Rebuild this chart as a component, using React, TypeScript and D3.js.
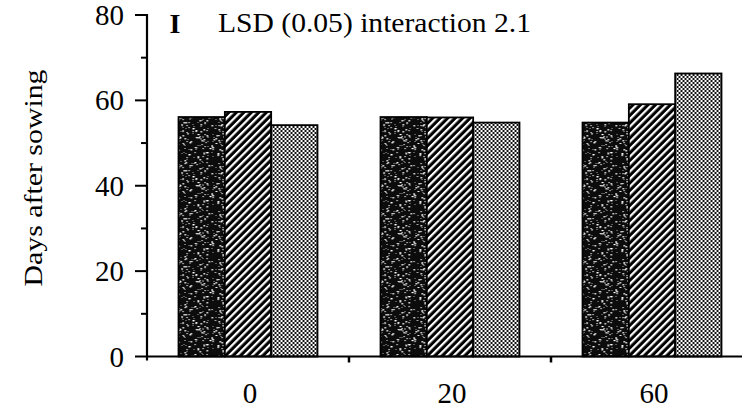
import React from 'react';
import * as d3 from 'd3';

// ---- data ----
const categories = ['0', '20', '60'];
const seriesKeys = ['s1', 's2', 's3'];
const series1 = [56.1, 56.1, 54.8];
const series2 = [57.3, 56.0, 59.1];
const series3 = [54.2, 54.8, 66.3];
const yTicks = [0, 20, 40, 60, 80];
const yMinorTicks = [10, 30, 50, 70];
const yTitle = 'Days after sowing';
const lsdText = 'LSD (0.05) interaction 2.1';
const lsdSymbol = 'I';

const W = 742;
const H = 410;
const FONT = "'Liberation Serif', 'Times New Roman', Times, serif";

const seriesValues = [series1, series2, series3];
const patternIds = ['pStipple', 'pStripe', 'pChecker'];

// deterministic speck positions for the stipple texture (style only, hash based)
const TILE = 48;
function mix(n: number): number {
  let h = n >>> 0;
  h ^= h >>> 16;
  h = Math.imul(h, 0x85ebca6b) >>> 0;
  h ^= h >>> 13;
  h = Math.imul(h, 0xc2b2ae35) >>> 0;
  h ^= h >>> 16;
  return h >>> 0;
}
const speckles: [number, number, number][] = [];
for (let k = 0; k < 200; k++) {
  const h1 = mix(k * 3 + 11);
  const h2 = mix(k * 3 + 12);
  const h3 = mix(k * 3 + 13);
  speckles.push([h1 % TILE, h2 % TILE, 0.8 + (h3 % 3) * 0.35]);
}

export default function App() {
  const x0 = d3
    .scaleBand<string>()
    .domain(categories)
    .range([147, 753])
    .paddingInner(0.312)
    .paddingOuter(0.156);
  const x1 = d3.scaleBand<string>().domain(seriesKeys).range([0, x0.bandwidth()]);
  const y = d3.scaleLinear().domain([0, 80]).range([356.5, 15]);

  const step = x0.step();
  const [r0] = x0.range();
  const boundaries = categories.slice(1).map((_, i) => r0 + step * (i + 1));

  return (
    <svg
      width={W}
      height={H}
      style={{ position: 'absolute', left: 0, top: 0, background: '#fff', fontFamily: FONT }}
    >
      <defs>
        <pattern id="pStipple" width={TILE} height={TILE} patternUnits="userSpaceOnUse">
          <rect width={TILE} height={TILE} fill="#0c0c0c" />
          {speckles.map(([sx, sy, s], i) => (
            <rect key={i} x={sx} y={sy} width={s} height={s} fill="#fff" />
          ))}
        </pattern>
        <pattern
          id="pStripe"
          width={5.3}
          height={10}
          patternUnits="userSpaceOnUse"
          patternTransform="rotate(45)"
        >
          <rect width={5.3} height={10} fill="#000" />
          <rect x={0} width={2.2} height={10} fill="#fff" />
        </pattern>
        <pattern id="pChecker" width={4} height={4} patternUnits="userSpaceOnUse">
          <rect width={4} height={4} fill="#fff" />
          <rect x={0} y={0} width={2} height={2} fill="#111" />
          <rect x={2} y={2} width={2} height={2} fill="#111" />
        </pattern>
      </defs>

      {/* bars */}
      {categories.map((cat, ci) => (
        <g key={cat} transform={`translate(${x0(cat)},0)`}>
          {seriesKeys.map((k, si) => {
            const v = seriesValues[si][ci];
            return (
              <rect
                key={k}
                x={x1(k)}
                y={y(v)}
                width={x1.bandwidth()}
                height={y(0) - y(v)}
                fill={`url(#${patternIds[si]})`}
                stroke="#000"
                strokeWidth={1.8}
              />
            );
          })}
        </g>
      ))}

      {/* y axis */}
      <line x1={147} x2={147} y1={y(80) - 1} y2={y(0) + 4} stroke="#000" strokeWidth={2.2} />
      {yTicks.map((t) => (
        <g key={t}>
          <line x1={135} x2={147} y1={y(t)} y2={y(t)} stroke="#000" strokeWidth={2} />
          <text x={124} y={y(t) + 10} textAnchor="end" fontSize={29} fill="#000">
            {t}
          </text>
        </g>
      ))}
      {yMinorTicks.map((t) => (
        <line key={t} x1={141} x2={147} y1={y(t)} y2={y(t)} stroke="#000" strokeWidth={2} />
      ))}

      {/* x axis */}
      <line x1={147} x2={W} y1={y(0)} y2={y(0)} stroke="#000" strokeWidth={2.2} />
      {boundaries.map((b) => (
        <line key={b} x1={b} x2={b} y1={y(0)} y2={y(0) + 6} stroke="#000" strokeWidth={2.5} />
      ))}
      {categories.map((cat) => (
        <text
          key={cat}
          x={(x0(cat) as number) + x0.bandwidth() / 2 + 2}
          y={403}
          textAnchor="middle"
          fontSize={29}
          fill="#000"
        >
          {cat}
        </text>
      ))}

      {/* y title */}
      <text
        transform={`translate(42,178) rotate(-90)`}
        textAnchor="middle"
        fontSize={25}
        textLength={217}
        lengthAdjust="spacingAndGlyphs"
        fill="#000"
      >
        {yTitle}
      </text>

      {/* LSD annotation */}
      <text x={175} y={33} textAnchor="middle" fontSize={28} fontWeight="bold" fill="#000">
        {lsdSymbol}
      </text>
      <text
        x={218}
        y={32}
        fontSize={27}
        textLength={313}
        lengthAdjust="spacingAndGlyphs"
        fill="#000"
      >
        {lsdText}
      </text>
    </svg>
  );
}
